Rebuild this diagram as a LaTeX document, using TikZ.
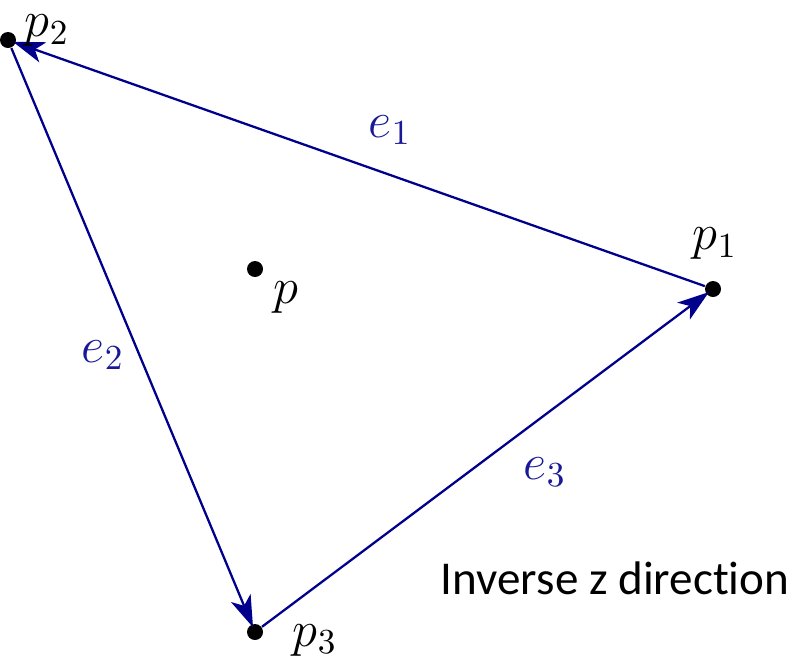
\documentclass[tikz,border=0pt]{standalone}
\usepackage{fontspec}
\setsansfont[Ligatures=NoCommon]{Carlito}
\usetikzlibrary{arrows.meta}
\definecolor{edgeblue}{RGB}{0,0,140}
\definecolor{labelblue}{RGB}{25,25,150}
\begin{document}
\begin{tikzpicture}[
    dot/.style={circle,fill=black,inner sep=0pt,minimum size=0.16cm},
    edge/.style={draw=edgeblue,line width=0.65pt,shorten >=-1pt,-{Stealth[length=9pt,width=6pt,inset=2.4pt]}},
    ptlabel/.style={inner sep=1pt,font=\fontsize{14.5}{17}\selectfont},
    elabel/.style={inner sep=1pt,text=labelblue,font=\fontsize{14.5}{17}\selectfont}]
		\useasboundingbox (0,0) rectangle (7.95,-6.63);
		% vertices
		\node[dot] (p1) at (7.13,-2.89) {};
		\node[dot] (p2) at (0.08,-0.40) {};
		\node[dot] (p3) at (2.55,-6.32) {};
		\node[dot] (p) at (2.55,-2.69) {};
		% edges
		\draw[edge] (p1) to (p2);
		\draw[edge] (p2) to (p3);
		\draw[edge] (p3) to (p1);
		% labels
		\node[ptlabel] (l2) at (0.47,-0.31) {$p_2$};
		\node[ptlabel] (l1) at (7.15,-2.44) {$p_1$};
		\node[ptlabel] (l3) at (3.15,-6.40) {$p_3$};
		\node[ptlabel] (l0) at (2.86,-2.98) {$p$};
		\node[elabel] (e1) at (3.90,-1.30) {$e_1$};
		\node[elabel] (e2) at (1.03,-3.55) {$e_2$};
		\node[elabel] (e3) at (5.45,-4.72) {$e_3$};
		\node[inner sep=1pt,font=\sffamily\fontsize{13.4}{16}\selectfont] (dir) at (6.15,-5.78) {Inverse z direction};
\end{tikzpicture}
\end{document}
